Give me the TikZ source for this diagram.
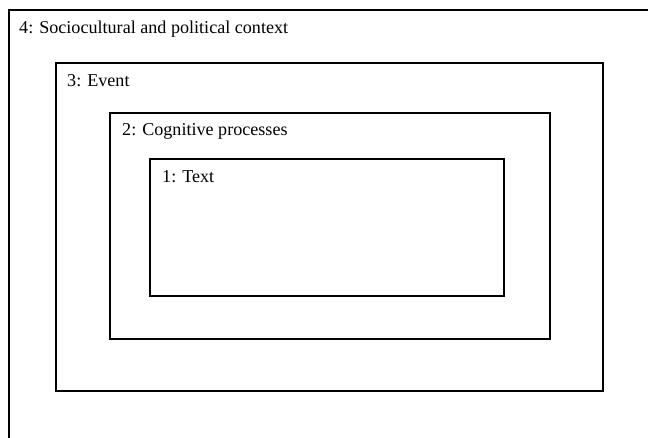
\documentclass[tikz,border=0pt]{standalone}
\usepackage{fontspec}
\setmainfont{Liberation Serif}
\begin{document}
\begin{tikzpicture}[x=1pt,y=-1pt,
  frame/.style={draw=black,line width=2.2pt},
  lbl/.style={anchor=base west,inner sep=0pt,font=\fontsize{18.1}{21}\selectfont}]
\useasboundingbox (0,0) rectangle (648,437);
\clip (0,0) rectangle (648,437);
\draw[frame] (9,10) rectangle (670,460);
\draw[frame] (56,63) rectangle (603,391);
\draw[frame] (110,113) rectangle (550,339);
\draw[frame] (150,159) rectangle (504,296);
\node[lbl] (l4) at (19,33) {4: Sociocultural and political context};
\node[lbl] (l3) at (67,86) {3: Event};
\node[lbl] (l2) at (122,135) {2: Cognitive processes};
\node[lbl] (l1) at (162,182) {1: Text};
\end{tikzpicture}
\end{document}
